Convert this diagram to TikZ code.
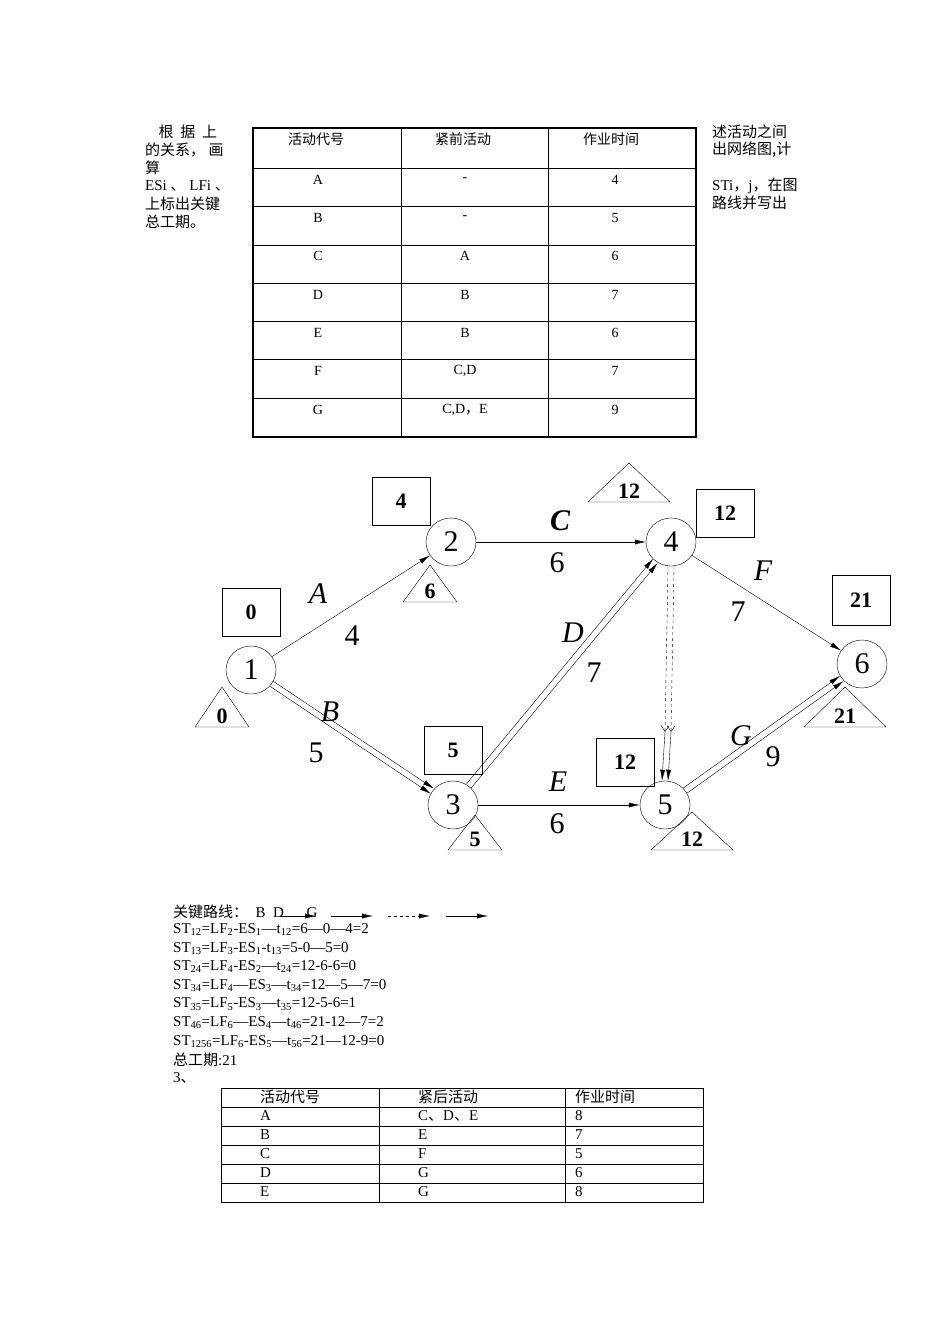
\documentclass[tikz,border=0pt]{standalone}
\usepackage{fontspec}
\setmainfont{Liberation Serif}
\newfontfamily\cjk{Noto Sans CJK SC}
\usetikzlibrary{shapes.geometric, arrows, arrows.meta, positioning}
\tikzstyle{event} = [ellipse, draw=black, minimum width=50pt, minimum height=48pt, inner sep=0pt, font=\fontsize{30}{30}\selectfont]
\tikzstyle{es} = [rectangle, draw=black, minimum width=58pt, minimum height=48pt, font=\bfseries\fontsize{22}{22}\selectfont]
\tikzstyle{lfnum} = [anchor=base, inner sep=0pt, font=\bfseries\fontsize{22}{22}\selectfont]
\tikzstyle{arrow} = [->,>={Latex[length=11pt,width=5pt]}]
\tikzstyle{lbl} = [font=\itshape\fontsize{30}{30}\selectfont]
\tikzstyle{num} = [font=\fontsize{30}{30}\selectfont]
\tikzstyle{txt} = [anchor=west, inner sep=0pt, font=\fontsize{15}{15}\selectfont]
\tikzstyle{cell} = [inner sep=0pt, font=\fontsize{14}{14}\selectfont]
% triangle: name, centre x, base y, half width, height, value
\newcommand{\lftri}[6]{%
  \draw (#2-#4,#3) -- (#2,#3-#5) -- (#2+#4,#3) -- cycle;
  \node (#1) [lfnum] at (#2,#3-4) {#6};}
\begin{document}
\begin{tikzpicture}[x=1pt, y=-1pt]
\useasboundingbox (0,0) rectangle (950,1344);

% side text
\foreach \t [count=\i] in {{\cjk \ \ \ \ 根\ \ 据\ \ 上}, {\cjk 的关系，\ 画}, {\cjk 算}, {ESi {\cjk 、} LFi {\cjk 、}}, {\cjk 上标出关键}, {\cjk 总工期。}}
  \node[txt] at (145, 114+18*\i) {\t};
\node[txt] at (712,132) {\cjk 述活动之间};
\node[txt] at (712,150) {\cjk 出网络图,计};
\node[txt] at (712,186) {STi{\cjk ，}j{\cjk ，在图}};
\node[txt] at (712,203) {\cjk 路线并写出};

% first table
\draw[line width=1.5pt] (253,128) rectangle (696,437);
\draw (401,128) -- (401,437) (548,128) -- (548,437);
\foreach \y in {168,206,245,283,321,359,398}
  \draw (253,\y) -- (696,\y);
\node[cell] at (316,139) {\cjk 活动代号};
\node[cell] at (463,139) {\cjk 紧前活动};
\node[cell] at (611,139) {\cjk 作业时间};
\foreach \a/\p/\d [count=\i] in {A/-/4, B/-/5, C/A/6, D/B/7, E/B/6, F/{C,D}/7, G/{C,D{\cjk ，}E}/9} {
  \node[cell] at (318, 141+38.4*\i) {\a};
  \node[cell] at (465, 141+38.4*\i) {\p};
  \node[cell] at (615, 141+38.4*\i) {\d};
}

% network
\node (n1) [event] at (251,670) {1};
\node (n2) [event] at (451,542) {2};
\node (n3) [event] at (453,805) {3};
\node (n4) [event] at (671,542) {4};
\node (n5) [event] at (665,805) {5};
\node (n6) [event] at (862,664) {6};

\node (es1) [es] at (251,612) {0};
\node (es2) [es] at (401,501) {4};
\node (es3) [es] at (453,750) {5};
\node (es4) [es] at (725,513) {12};
\node (es5) [es] at (625,762) {12};
\node (es6) [es, minimum height=50pt] at (861,600) {21};

\lftri{lf1}{222}{727}{27}{40}{0}
\lftri{lf2}{430}{602}{27}{37}{6}
\lftri{lf3}{475}{850}{27}{35}{5}
\lftri{lf4}{629}{502}{41}{39}{12}
\lftri{lf5}{692}{850}{41}{38}{12}
\lftri{lf6}{845}{727}{41}{40}{21}

\draw [arrow] (n1) -- (n2);
\draw [arrow] (n2) -- (n4);
\draw [arrow] (n3) -- (n5);
\draw [arrow] (n4) -- (n6);
\draw [arrow, transform canvas={shift={(1.5pt,2.6pt)}}] (n1) -- (n3);
\draw [arrow, transform canvas={shift={(-1.5pt,-2.6pt)}}] (n1) -- (n3);
\draw [arrow, transform canvas={shift={(-2.2pt,2.2pt)}}] (n3) -- (n4);
\draw [arrow, transform canvas={shift={(2.2pt,-2.2pt)}}] (n3) -- (n4);
\draw [arrow, transform canvas={shift={(-1.8pt,2.6pt)}}] (n5) -- (n6);
\draw [arrow, transform canvas={shift={(1.8pt,-2.6pt)}}] (n5) -- (n6);
\coordinate (mid45) at (668,732);
\draw [dashed, ->, >={Straight Barb[length=6pt,width=8pt]}] ([xshift=-3pt]n4.south) -- ([xshift=-3pt]mid45);
\draw [dashed, ->, >={Straight Barb[length=6pt,width=8pt]}] ([xshift=3pt]n4.south) -- ([xshift=3pt]mid45);
\draw [arrow] ([xshift=-3pt]mid45) -- ([xshift=-3pt]n5.north);
\draw [arrow] ([xshift=3pt]mid45) -- ([xshift=3pt]n5.north);

\node[lbl] at (318,594) {A};
\node[num] at (352,636) {4};
\node[lbl] at (330,712) {B};
\node[num] at (316,753) {5};
\node[lbl, font=\bfseries\itshape\fontsize{30}{30}\selectfont] at (560,521) {C};
\node[num] at (557,563) {6};
\node[lbl] at (573,633) {D};
\node[num] at (594,673) {7};
\node[lbl] at (558,782) {E};
\node[num] at (557,824) {6};
\node[lbl] at (763,571) {F};
\node[num] at (738,612) {7};
\node[lbl] at (741,736) {G};
\node[num] at (773,757) {9};

% calculations
\node[txt] (crit) at (173,912) {{\cjk 关键路线：} \ B\ \ D\ \ \ \ \ \ G};
\draw [arrow] (280,916) -- (316,916);
\draw [arrow] (331,916) -- (373,916);
\draw [arrow, dashed] (388,916) -- (430,916);
\draw [arrow] (446,916) -- (488,916);
\foreach \t [count=\i] in {
  {ST\textsubscript{12}=LF\textsubscript{2}-ES\textsubscript{1}—t\textsubscript{12}=6—0—4=2},
  {ST\textsubscript{13}=LF\textsubscript{3}-ES\textsubscript{1}-t\textsubscript{13}=5-0—5=0},
  {ST\textsubscript{24}=LF\textsubscript{4}-ES\textsubscript{2}—t\textsubscript{24}=12-6-6=0},
  {ST\textsubscript{34}=LF\textsubscript{4}—ES\textsubscript{3}—t\textsubscript{34}=12—5—7=0},
  {ST\textsubscript{35}=LF\textsubscript{5}-ES\textsubscript{3}—t\textsubscript{35}=12-5-6=1},
  {ST\textsubscript{46}=LF\textsubscript{6}—ES\textsubscript{4}—t\textsubscript{46}=21-12—7=2},
  {ST\textsubscript{1256}=LF\textsubscript{6}-ES\textsubscript{5}—t\textsubscript{56}=21—12-9=0},
  {{\cjk 总工期}:21},
  {3{\cjk 、}}}
  \node[txt] at (173, 911+18.6*\i) {\t};

% second table
\draw (221,1088) rectangle (703,1202);
\draw (379,1088) -- (379,1202) (565,1088) -- (565,1202);
\foreach \y in {1107,1126,1145,1164,1183}
  \draw (221,\y) -- (703,\y);
\foreach \a/\b/\c [count=\i] in {{\cjk 活动代号}/{\cjk 紧后活动}/{\cjk 作业时间}, A/{C{\cjk 、}D{\cjk 、}E}/8, B/E/7, C/F/5, D/G/6, E/G/8} {
  \node[txt] at (260, 1078+19*\i) {\a};
  \node[txt] at (418, 1078+19*\i) {\b};
  \node[txt] at (575, 1078+19*\i) {\c};
}
\end{tikzpicture}
\end{document}
